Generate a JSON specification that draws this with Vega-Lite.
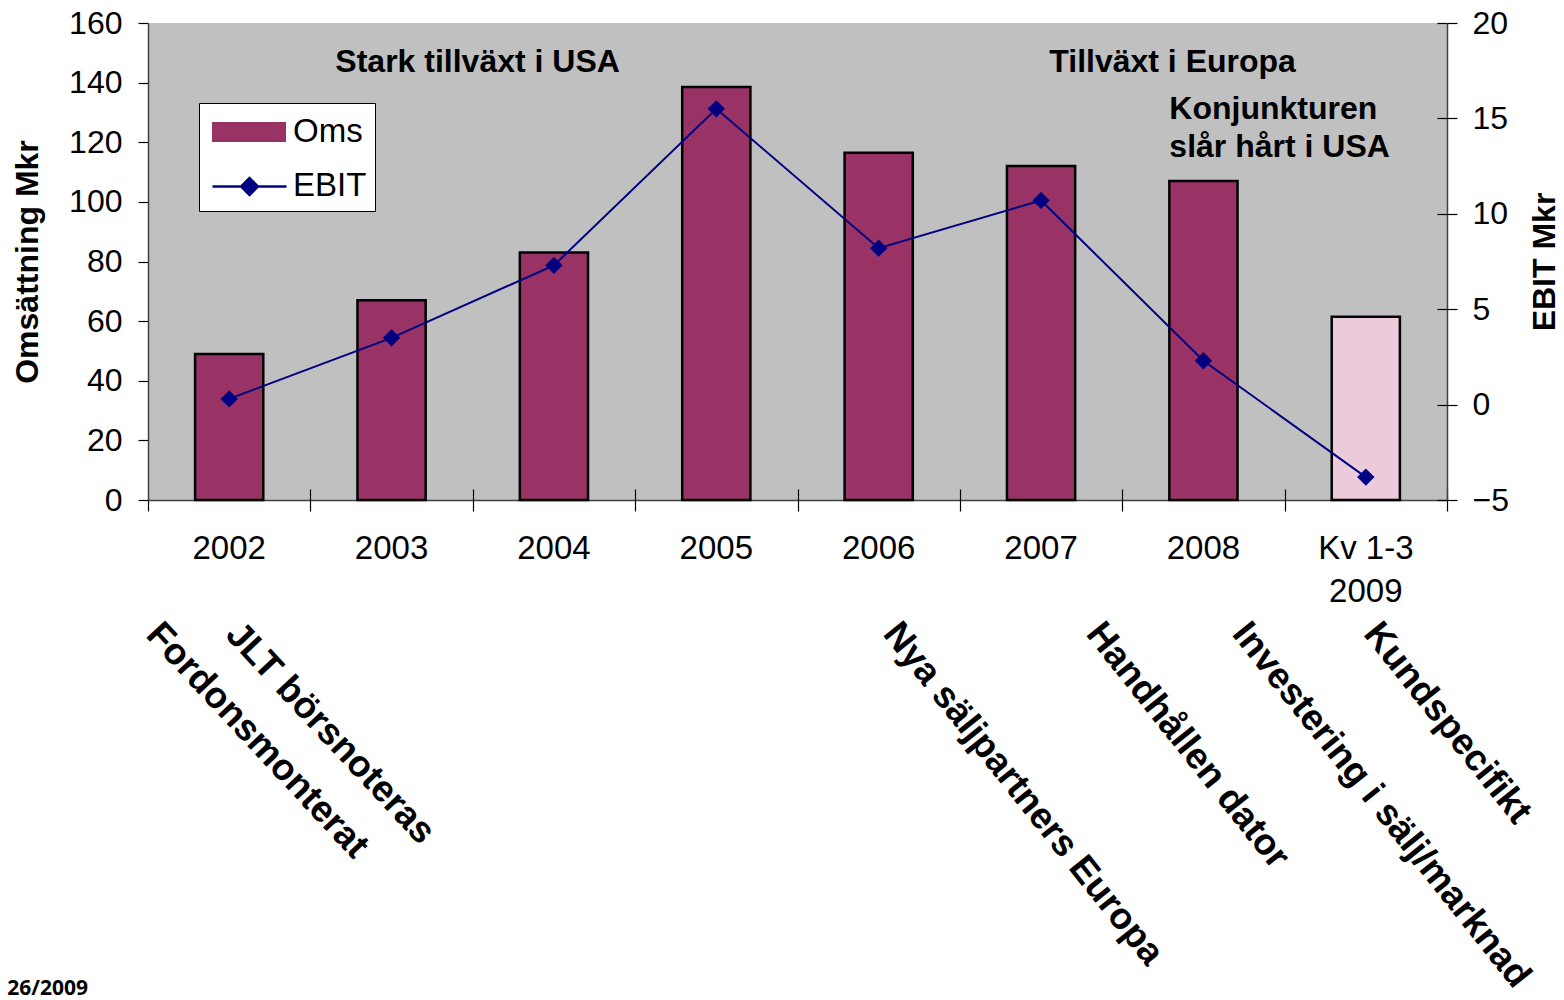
{
  "$schema": "https://vega.github.io/schema/vega-lite/v6.json",
  "width": 1299,
  "height": 477,
  "autosize": {"type": "none"},
  "padding": {"left": 148, "top": 23, "right": 117, "bottom": 500},
  "background": "white",
  "config": {
    "view": {"fill": "#C0C0C0", "stroke": null},
    "font": "Liberation Sans",
    "axis": {
      "labelFont": "Liberation Sans",
      "labelFontSize": 32,
      "labelColor": "black",
      "titleFont": "Liberation Sans",
      "titleFontSize": 32,
      "titleFontWeight": "bold",
      "titleColor": "black",
      "tickColor": "black",
      "tickWidth": 1.2,
      "domainColor": "#404040",
      "domainWidth": 1.5,
      "grid": false
    },
    "legend": {
      "title": null, "orient": "none", "legendX": 51,
      "padding": 8, "symbolOffset": 21, "labelOffset": 23,
      "labelFont": "Liberation Sans", "labelFontSize": 33, "labelColor": "black",
      "symbolSize": 1600, "rowPadding": 16
    }
  },
  "datasets": {
    "ekonomi": [
      {"period": "2002", "oms": 49, "ebit": 0.3, "serie": "Oms"},
      {"period": "2003", "oms": 67, "ebit": 3.5, "serie": "Oms"},
      {"period": "2004", "oms": 83, "ebit": 7.3, "serie": "Oms"},
      {"period": "2005", "oms": 138.5, "ebit": 15.5, "serie": "Oms"},
      {"period": "2006", "oms": 116.5, "ebit": 8.2, "serie": "Oms"},
      {"period": "2007", "oms": 112, "ebit": 10.7, "serie": "Oms"},
      {"period": "2008", "oms": 107, "ebit": 2.3, "serie": "Oms"},
      {"period": "Kv 1-3 2009", "oms": 61.5, "ebit": -3.8, "serie": "Oms kv 1-3"}
    ],
    "handelser_tidiga": [
      {"tid": 2001.61, "text": "Fordonsmonterat"},
      {"tid": 2002.1, "text": "JLT börsnoteras"}
    ],
    "handelser_sena": [
      {"tid": 2006.16, "text": "Nya säljpartners Europa"},
      {"tid": 2007.41, "text": "Handhållen dator"},
      {"tid": 2008.31, "text": "Investering i sälj/marknad"},
      {"tid": 2009.12, "text": "Kundspecifikt"}
    ],
    "rubriker": [
      {"tid": 2003.53, "text": "Stark tillväxt i USA"},
      {"tid": 2007.81, "text": "Tillväxt i Europa"}
    ],
    "konjunktur": [
      {"tid": 2007.79, "text": "Konjunkturen\nslår hårt i USA"}
    ],
    "sidfot": [
      {"tid": 2001.13, "text": "26/2009"}
    ]
  },
  "layer": [
    {
      "data": {"name": "ekonomi"},
      "mark": {"type": "bar"},
      "encoding": {
        "x": {
          "field": "period", "type": "nominal", "sort": null,
          "scale": {"type": "band", "paddingInner": 0.58, "paddingOuter": 0.29},
          "axis": {
            "title": null, "labelAngle": 0, "ticks": false, "labelPadding": 32,
            "labelFontSize": 33, "labelLineHeight": 43, "labelBaseline": "top",
            "labelExpr": "datum.value === 'Kv 1-3 2009' ? ['Kv 1-3', '2009'] : datum.value"
          }
        },
        "y": {
          "field": "oms", "type": "quantitative",
          "scale": {"domain": [0, 160], "nice": false},
          "axis": {
            "title": "Omsättning Mkr", "values": [0, 20, 40, 60, 80, 100, 120, 140, 160],
            "tickSize": 10, "labelPadding": 16, "titlePadding": 24
          }
        },
        "color": {
          "field": "serie", "type": "nominal",
          "scale": {"domain": ["Oms", "Oms kv 1-3", "EBIT"], "range": ["#993366", "#EBCBDB", "#FFFFFF"]},
          "legend": {
            "values": ["Oms", "EBIT"],
            "legendY": 80,
            "fillColor": "white", "strokeColor": "black",
            "symbolType": "M-1.85,-0.5H1.85V0.5H-1.85Z"
          }
        }
      }
    },
    {
      "data": {"name": "ekonomi"},
      "mark": {"type": "bar", "fill": "transparent", "stroke": "black", "strokeWidth": 2.5},
      "encoding": {
        "x": {
          "field": "period", "type": "nominal", "sort": null,
          "scale": {"type": "band", "paddingInner": 0.58, "paddingOuter": 0.29},
          "axis": null
        },
        "y": {"field": "oms", "type": "quantitative", "scale": {"domain": [0, 160], "nice": false}, "axis": null}
      }
    },
    {
      "data": {"name": "ekonomi"},
      "mark": {"type": "line", "strokeWidth": 2},
      "encoding": {
        "x": {"field": "period", "type": "nominal", "sort": null, "axis": null},
        "y": {
          "field": "ebit", "type": "quantitative",
          "scale": {"domain": [-5, 20], "nice": false, "zero": false},
          "axis": {
            "orient": "right", "title": "EBIT Mkr", "values": [-5, 0, 5, 10, 15, 20],
            "tickSize": 10, "labelPadding": 15, "titleAngle": 270, "titleBaseline": "top", "titlePadding": 21
          }
        },
        "color": {
          "datum": "EBIT",
          "scale": {"domain": ["EBIT"], "range": ["#000080"]},
          "legend": {
            "legendY": 134,
            "fillColor": "transparent", "strokeColor": "transparent",
            "labelExpr": "''",
            "symbolStrokeWidth": 2.5,
            "symbolType": "M-1.85,0H1.85M0,-0.42L0.42,0L0,0.42L-0.42,0ZM0,-0.28L0.28,0L0,0.28L-0.28,0ZM0,-0.14L0.14,0L0,0.14L-0.14,0Z"
          }
        }
      }
    },
    {
      "data": {"name": "ekonomi"},
      "mark": {"type": "point", "shape": "diamond", "filled": true, "size": 300, "opacity": 1},
      "encoding": {
        "x": {"field": "period", "type": "nominal", "sort": null, "axis": null},
        "y": {
          "field": "ebit", "type": "quantitative",
          "scale": {"domain": [-5, 20], "nice": false, "zero": false},
          "axis": {
            "orient": "right", "title": null, "values": [-5, 0, 5, 10, 15, 20],
            "tickSize": -10, "labels": false, "domain": false
          }
        },
        "color": {"datum": "EBIT", "scale": {"domain": ["EBIT"], "range": ["#000080"]}, "legend": null}
      }
    },
    {
      "data": {"name": "rubriker"},
      "mark": {"type": "text", "align": "center", "baseline": "middle", "font": "Liberation Sans", "fontWeight": "bold", "fontSize": 32, "color": "black"},
      "encoding": {
        "x": {
          "field": "tid", "type": "quantitative",
          "scale": {"domain": [2001.5, 2009.5], "nice": false, "zero": false},
          "axis": {
            "orient": "bottom", "title": null, "labels": false, "domain": false, "tickSize": 11,
            "values": [2001.5, 2002.5, 2003.5, 2004.5, 2005.5, 2006.5, 2007.5, 2008.5, 2009.5]
          }
        },
        "y": {"datum": 147, "type": "quantitative", "scale": {"domain": [0, 160], "nice": false}, "axis": null},
        "text": {"field": "text"}
      }
    },
    {
      "data": {"name": "konjunktur"},
      "mark": {"type": "text", "align": "left", "baseline": "middle", "lineBreak": "\n", "lineHeight": 38, "font": "Liberation Sans", "fontWeight": "bold", "fontSize": 32, "color": "black"},
      "encoding": {
        "x": {
          "field": "tid", "type": "quantitative",
          "scale": {"domain": [2001.5, 2009.5], "nice": false, "zero": false},
          "axis": {
            "orient": "bottom", "title": null, "labels": false, "domain": false, "tickSize": -11,
            "values": [2002.5, 2003.5, 2004.5, 2005.5, 2006.5, 2007.5, 2008.5, 2009.5]
          }
        },
        "y": {"datum": 131, "type": "quantitative", "scale": {"domain": [0, 160], "nice": false}, "axis": null},
        "text": {"field": "text"}
      }
    },
    {
      "data": {"name": "handelser_tidiga"},
      "mark": {"type": "text", "align": "left", "baseline": "top", "angle": 47, "font": "Liberation Sans", "fontWeight": "bold", "fontSize": 37, "color": "black"},
      "encoding": {
        "x": {"field": "tid", "type": "quantitative", "scale": {"domain": [2001.5, 2009.5], "nice": false, "zero": false}, "axis": null},
        "y": {"datum": -39, "type": "quantitative", "scale": {"domain": [0, 160], "nice": false}, "axis": null},
        "text": {"field": "text"}
      }
    },
    {
      "data": {"name": "handelser_sena"},
      "mark": {"type": "text", "align": "left", "baseline": "top", "angle": 51.5, "font": "Liberation Sans", "fontWeight": "bold", "fontSize": 37, "color": "black"},
      "encoding": {
        "x": {"field": "tid", "type": "quantitative", "scale": {"domain": [2001.5, 2009.5], "nice": false, "zero": false}, "axis": null},
        "y": {"datum": -39, "type": "quantitative", "scale": {"domain": [0, 160], "nice": false}, "axis": null},
        "text": {"field": "text"}
      }
    },
    {
      "data": {"name": "sidfot"},
      "mark": {"type": "text", "align": "right", "baseline": "middle", "font": "Open Sans", "fontWeight": "bold", "fontSize": 21, "color": "black"},
      "encoding": {
        "x": {"field": "tid", "type": "quantitative", "scale": {"domain": [2001.5, 2009.5], "nice": false, "zero": false}, "axis": null},
        "y": {"datum": -164, "type": "quantitative", "scale": {"domain": [0, 160], "nice": false}, "axis": null},
        "text": {"field": "text"}
      }
    }
  ],
  "resolve": {"scale": {"x": "independent", "y": "independent", "color": "independent"}}
}
